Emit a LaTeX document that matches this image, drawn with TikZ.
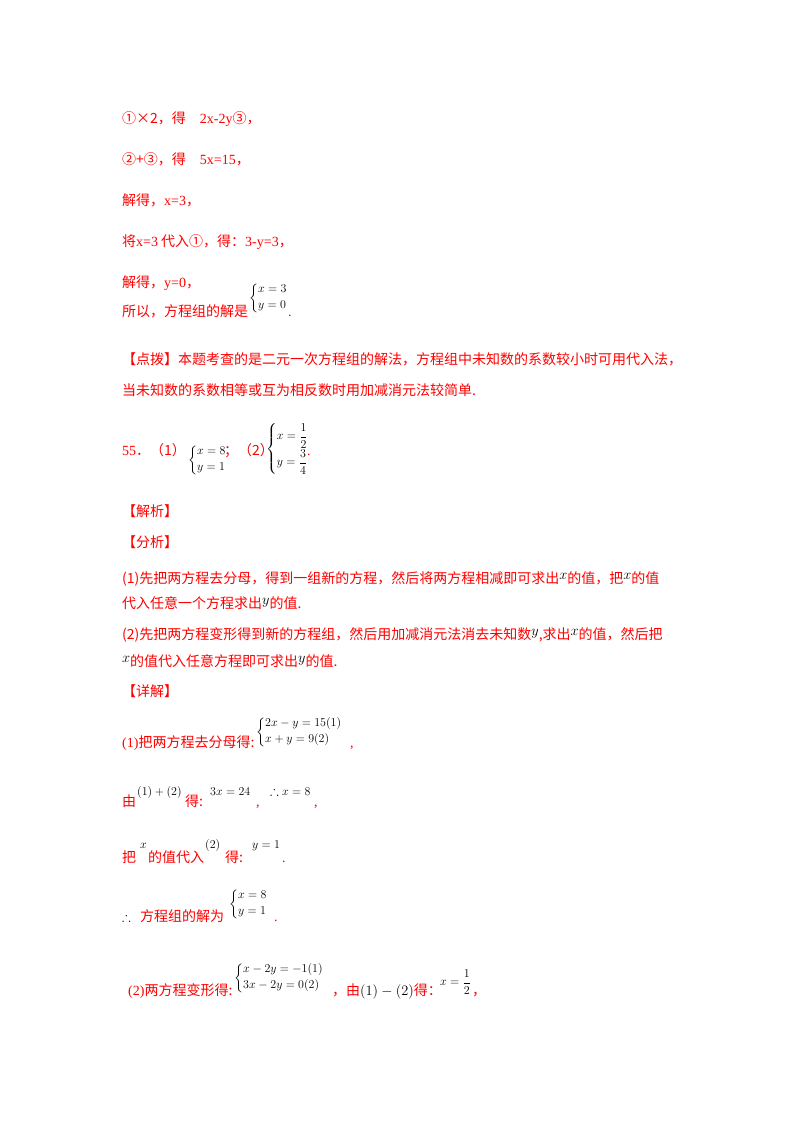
\documentclass[tikz,border=0pt]{standalone}
\usepackage{amsmath,amssymb}
\usepackage{fontspec}
\setmainfont{Liberation Serif}
\newfontfamily\cjk{Noto Sans CJK SC}
\newcommand{\C}[1]{{\cjk #1}}
\begin{document}
\begin{tikzpicture}[x=1pt,y=-1pt,
  r/.style={anchor=base west,inner sep=0pt,text=red,font=\fontsize{14}{16}\selectfont},
  k/.style={anchor=base west,inner sep=0pt,text=black,font=\fontsize{13}{15}\selectfont},
  sys/.style={anchor=west,inner sep=0pt,text=black,font=\fontsize{12}{14}\selectfont}]
\useasboundingbox (0,0) rectangle (800,1132);
\node[r] (l1) at (122,123) {\C{①×2，得}\quad 2x-2y\C{③，}};
\node[r] (l2) at (122,164) {\C{②+③，得}\quad 5x=15\C{，}};
\node[r] (l3) at (122,205) {\C{解得，}x=3\C{，}};
\node[r] (l4) at (122,246) {\C{将}x=3\C{ 代入①，得：}3-y=3\C{，}};
\node[r] (l5) at (122,287) {\C{解得，}y=0\C{，}};
\node[r] (l6) at (122,316) {\C{所以，方程组的解是}};
\node[sys] (s6) at (249,298) {$\left\{\begin{array}{@{}l@{}}x=3\\[2pt] y=0\end{array}\right.$};
\node[r] (l6b) at (288,316) {.};
\node[r] (d1) at (122,364) {\C{【点拨】本题考查的是二元一次方程组的解法，方程组中未知数的系数较小时可用代入法，}};
\node[r] (d2) at (122,395) {\C{当未知数的系数相等或互为相反数时用加减消元法较简单.}};
\node[r] (n55) at (122,455) {55\C{．（1）}};
\node[sys] (s55a) at (188,460) {$\left\{\begin{array}{@{}l@{}}x=8\\[2pt] y=1\end{array}\right.$};
\node[r] (n55b) at (224,455) {\C{；（2）}};
\node[sys] (s55b) at (266,449) {$\left\{\begin{array}{@{}l@{}}x=\dfrac12\\[6pt] y=\dfrac34\end{array}\right.$};
\node[r] (n55c) at (307,455) {.};
\node[r] (jx) at (122,516) {\C{【解析】}};
\node[r] (fx) at (122,547) {\C{【分析】}};
\node[r] (a1) at (122,583) {\C{(1)先把两方程去分母，得到一组新的方程，然后将两方程相减即可求出}\raisebox{4pt}{\textcolor{black}{$x$}}\C{的值，把}\raisebox{4pt}{\textcolor{black}{$x$}}\C{的值}};
\node[r] (a2) at (122,608) {\C{代入任意一个方程求出}\raisebox{4pt}{\textcolor{black}{$y$}}\C{的值.}};
\node[r] (a3) at (122,639) {\C{(2)先把两方程变形得到新的方程组，然后用加减消元法消去未知数}\raisebox{4pt}{\textcolor{black}{$y$}}\C{,求出}\raisebox{4pt}{\textcolor{black}{$x$}}\C{的值，然后把}};
\node[r] (a4) at (122,666) {\raisebox{4pt}{\textcolor{black}{$x$}}\C{的值代入任意方程即可求出}\raisebox{4pt}{\textcolor{black}{$y$}}\C{的值.}};
\node[r] (xj) at (122,696) {\C{【详解】}};
\node[r] (b1) at (122,747) {(1)\C{把两方程去分母得:}};
\node[sys] (sb1) at (256,732) {$\left\{\begin{array}{@{}l@{}}2x-y=15(1)\\[2pt] x+y=9(2)\end{array}\right.$};
\node[r] (b1c) at (350,747) {,};
\node[r] (b2) at (122,806) {\C{由}};
\node[k] (b2a) at (137,795) {$(1)+(2)$};
\node[r] (b2b) at (185,806) {\C{得:}};
\node[k] (b2c) at (210,795) {$3x=24$};
\node[r] (b2d) at (256,806) {,};
\node[k] (b2e) at (270,795) {$\therefore x=8$};
\node[r] (b2f) at (314,806) {,};
\node[r] (b3) at (122,862) {\C{把}};
\node[k] (b3a) at (140,848) {$x$};
\node[r] (b3b) at (148,862) {\C{的值代入}};
\node[k] (b3c) at (205,848) {$(2)$};
\node[r] (b3d) at (225,862) {\C{得:}};
\node[k] (b3e) at (252,848) {$y=1$};
\node[r] (b3f) at (282,862) {.};
\node[k] (b4) at (122,921) {$\therefore$};
\node[r] (b4a) at (140,921) {\C{方程组的解为}};
\node[sys] (sb4) at (229,904) {$\left\{\begin{array}{@{}l@{}}x=8\\[2pt] y=1\end{array}\right.$};
\node[r] (b4b) at (274,921) {.};
\node[r] (c1) at (128,995) {(2)\C{两方程变形得:}};
\node[sys] (sc1) at (234,978) {$\left\{\begin{array}{@{}l@{}}x-2y=-1(1)\\[2pt] 3x-2y=0(2)\end{array}\right.$};
\node[r] (c1a) at (332,995) {\C{，由}\textcolor{black}{$(1)-(2)$}\C{得：}};
\node[sys] (c1b) at (440,982) {$x=\dfrac12$};
\node[r] (c1c) at (472,995) {\C{，}};
\end{tikzpicture}
\end{document}
